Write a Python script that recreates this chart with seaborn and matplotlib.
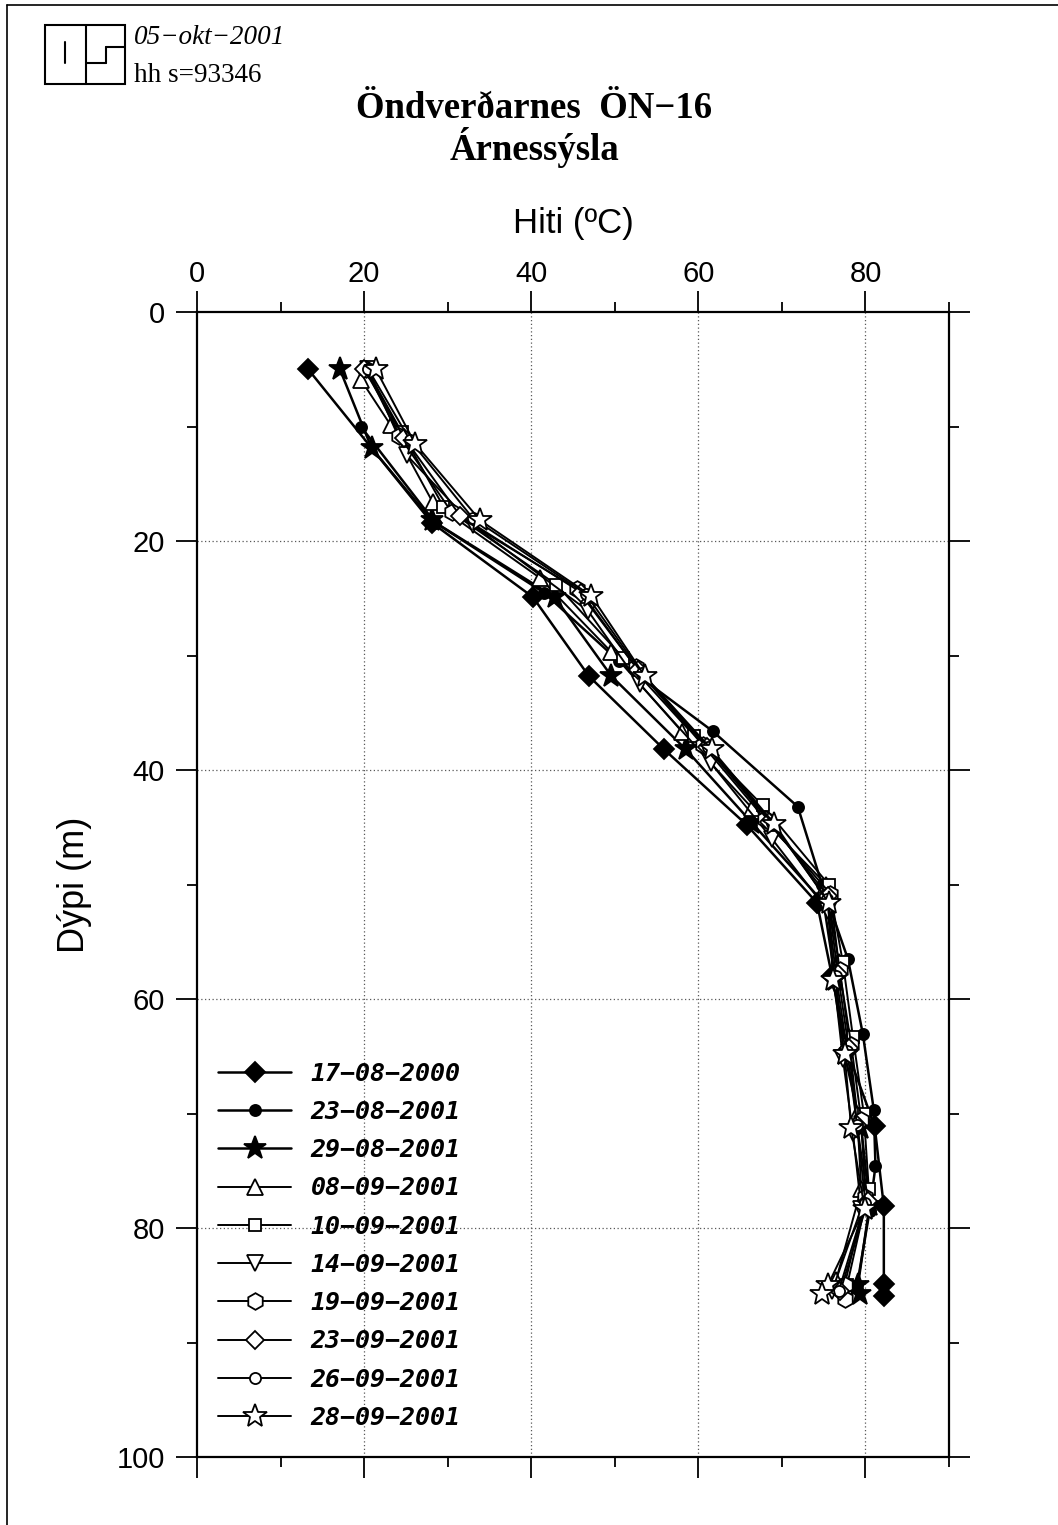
import matplotlib
matplotlib.use("Agg")
import matplotlib.pyplot as plt
from matplotlib.patches import Rectangle
from matplotlib.lines import Line2D
from matplotlib.font_manager import FontProperties
from matplotlib.ticker import MultipleLocator
import seaborn as sns
import pandas as pd

# ---------------- data ----------------
dates = ["17-08-2000", "23-08-2001", "29-08-2001", "08-09-2001", "10-09-2001",
         "14-09-2001", "19-09-2001", "23-09-2001", "26-09-2001", "28-09-2001"]

depth_a = [5.0, 18.4, 24.9, 31.8, 38.2, 44.8, 51.6, 58.0, 64.5, 71.1, 78.1, 84.9, 85.9]
temp_a = [13.3, 28.1, 40.2, 46.9, 55.9, 65.8, 74.2, 76.0, 77.8, 81.1, 82.2, 82.2, 82.2]

depth_b = [10.0, 18.4, 24.5, 30.5, 36.6, 43.2, 50.0, 56.5, 63.1, 69.7, 74.6, 78.5, 85.0]
temp_b = [19.6, 28.5, 41.5, 50.5, 61.7, 71.9, 74.8, 77.9, 79.7, 81.0, 81.2, 80.5, 79.0]

depth_c = [5.0, 11.9, 18.2, 24.9, 31.8, 38.2, 44.6, 51.6, 58.3, 64.8, 71.3, 78.0, 85.0, 85.8]
temp_c = [17.1, 20.9, 28.1, 42.8, 49.6, 58.5, 66.4, 75.0, 76.4, 77.5, 79.5, 80.5, 79.1, 79.3]

depth_d = [5.9, 9.9, 16.6, 23.2, 29.7, 36.7, 43.3, 50.0, 56.8, 63.3, 70.0, 76.6, 84.5]
temp_d = [19.6, 23.2, 28.2, 41.0, 49.6, 58.1, 66.4, 75.3, 76.8, 78.0, 79.0, 79.5, 76.5]

depth_e = [5.0, 10.5, 17.0, 23.8, 30.2, 37.0, 43.1, 50.0, 56.8, 63.3, 70.0, 76.6, 85.0]
temp_e = [20.3, 24.5, 29.5, 43.0, 51.0, 59.5, 67.7, 75.6, 77.3, 78.5, 79.8, 80.4, 77.8]

depth_f = [5.0, 12.5, 18.6, 26.1, 32.5, 39.4, 46.0, 52.3, 58.7, 65.2, 71.7, 78.3, 85.5]
temp_f = [20.5, 25.1, 33.0, 46.8, 53.0, 61.5, 68.8, 75.5, 76.3, 77.3, 78.5, 79.5, 76.0]

depth_g = [5.0, 10.8, 17.5, 24.2, 31.0, 37.8, 44.3, 50.8, 57.5, 64.0, 70.6, 77.3, 85.0, 86.2]
temp_g = [20.2, 24.2, 30.5, 45.5, 52.5, 60.5, 68.0, 75.8, 76.9, 78.3, 79.5, 80.0, 77.5, 77.5]

depth_h = [5.0, 11.0, 17.8, 24.5, 31.3, 38.0, 44.5, 51.0, 57.8, 64.3, 71.0, 77.6, 85.5]
temp_h = [20.0, 24.8, 31.5, 46.0, 52.8, 61.0, 68.5, 75.5, 76.7, 78.0, 79.0, 80.3, 77.0]

depth_i = [5.0, 11.2, 18.0, 24.6, 31.5, 38.0, 44.6, 51.3, 58.0, 64.5, 71.0, 77.8, 85.5]
temp_i = [20.5, 25.5, 33.0, 46.5, 53.2, 61.2, 68.8, 75.4, 76.5, 77.8, 79.0, 80.0, 76.8]

depth_j = [5.0, 11.5, 18.2, 24.8, 31.8, 38.2, 44.7, 51.6, 58.3, 64.8, 71.3, 78.3, 85.0, 85.8]
temp_j = [21.4, 26.1, 33.9, 47.2, 53.6, 61.6, 69.1, 75.6, 76.1, 77.5, 78.3, 79.9, 75.5, 74.8]

x_ticks = [0, 20, 40, 60, 80]
y_ticks = [0, 20, 40, 60, 80, 100]

series = [(depth_a, temp_a), (depth_b, temp_b), (depth_c, temp_c), (depth_d, temp_d),
          (depth_e, temp_e), (depth_f, temp_f), (depth_g, temp_g), (depth_h, temp_h),
          (depth_i, temp_i), (depth_j, temp_j)]

# marker, size, face, linewidth
styles = [("D", 10, "black", 1.8), ("o", 8, "black", 1.8), ("*", 17, "black", 1.8),
          ("^", 11, "white", 1.4), ("s", 9, "white", 1.4), ("v", 11, "white", 1.4),
          ("h", 12, "white", 1.4), ("D", 9, "white", 1.4), ("o", 8, "white", 1.4),
          ("*", 18, "white", 1.4)]

frames = []
for name, (d, t) in zip(dates, series):
    frames.append(pd.DataFrame({"date": name, "depth": d, "temp": t}))
df = pd.concat(frames, ignore_index=True)

# ---------------- figure ----------------
sns.set_style("ticks")
plt.rcParams["font.family"] = ["Liberation Sans", "DejaVu Sans"]
plt.rcParams["text.color"] = "black"
plt.rcParams["axes.labelcolor"] = "black"
plt.rcParams["xtick.color"] = "black"
plt.rcParams["ytick.color"] = "black"

W, H = 1058, 1525
fig = plt.figure(figsize=(W / 100, H / 100), dpi=100)
ax = fig.add_axes([197 / W, 1 - 1457 / H, (949 - 197) / W, (1457 - 312) / H])

def fx(x):
    return x / W

def fy(y):
    return 1 - y / H

for name, (mk, ms, fc, lw) in zip(dates, styles):
    sub = df[df["date"] == name]
    sns.lineplot(data=sub, x="temp", y="depth", sort=False, estimator=None,
                 color="black", linewidth=lw, marker=mk, markersize=ms,
                 markerfacecolor=fc, markeredgecolor="black", markeredgewidth=1.3,
                 label=name.replace("-", "\u2212"), ax=ax, legend=False)

ax.set_xlim(0, 90)
ax.set_ylim(100, 0)
ax.set_xticks(x_ticks)
ax.set_yticks(y_ticks)
ax.xaxis.set_minor_locator(MultipleLocator(10))
ax.yaxis.set_minor_locator(MultipleLocator(10))
ax.tick_params(axis="x", which="both", top=True, bottom=True, labeltop=True,
               labelbottom=False, direction="out", width=1.3, color="black")
ax.tick_params(axis="y", which="both", left=True, right=True, labelleft=True,
               labelright=False, direction="out", width=1.3, color="black")
ax.tick_params(which="major", length=15, labelsize=21)
ax.tick_params(axis="x", which="major", pad=2)
ax.tick_params(axis="y", which="major", pad=8)
ax.tick_params(which="minor", length=7)
for s in ax.spines.values():
    s.set_visible(True)
    s.set_linewidth(1.6)
    s.set_color("black")

for v in [20, 40, 60, 80]:
    ax.axvline(v, color="0.35", linestyle=(0, (1, 2)), linewidth=0.9, zorder=0)
    ax.axhline(v, color="0.35", linestyle=(0, (1, 2)), linewidth=0.9, zorder=0)

ax.set_xlabel("Hiti (\u00baC)", fontsize=25, labelpad=20)
ax.xaxis.set_label_position("top")
ax.set_ylabel("D\u00fdpi (m)", fontsize=26, labelpad=18)

leg_font = FontProperties(family="DejaVu Sans Mono", weight="bold", style="oblique", size=18)
handles, labels = ax.get_legend_handles_labels()
ax.legend(handles, labels, loc="upper left", bbox_to_anchor=(0.015, 0.354),
          frameon=False, prop=leg_font, handlelength=2.9, handletextpad=0.8,
          labelspacing=0.57, borderaxespad=0)

# titles
fig.text(fx(534), fy(108), "\u00d6ndver\u00f0arnes  \u00d6N\u221216", ha="center", va="center",
         family="Liberation Serif", weight="bold", fontsize=26.5)
fig.text(fx(534), fy(148), "\u00c1rness\u00fdsla", ha="center", va="center",
         family="Liberation Serif", weight="bold", fontsize=26.5)

# header
fig.text(fx(134), fy(38), "05\u2212okt\u22122001", ha="left", va="center",
         family="Liberation Serif", style="italic", fontsize=19.5)
fig.text(fx(134), fy(75), "hh s=93346", ha="left", va="center",
         family="Liberation Serif", fontsize=19.5)

def fline(xs, ys, lw=1.5):
    fig.add_artist(Line2D([fx(x) for x in xs], [fy(y) for y in ys],
                          color="black", linewidth=lw, transform=fig.transFigure))

fig.add_artist(Rectangle((fx(45), fy(84)), fx(125) - fx(45), fy(25) - fy(84),
                         fill=False, edgecolor="black", linewidth=1.5,
                         transform=fig.transFigure))
fline([86, 86], [25, 84])
fline([65, 65], [42, 63])
fline([106, 125], [47, 47])
fline([106, 106], [47, 63])
fline([86, 106], [63, 63])

# page frame
fline([7, 1058], [5, 5], lw=1.2)
fline([7, 7], [5, 1525], lw=1.2)

fig.savefig("out.png", dpi=100)
